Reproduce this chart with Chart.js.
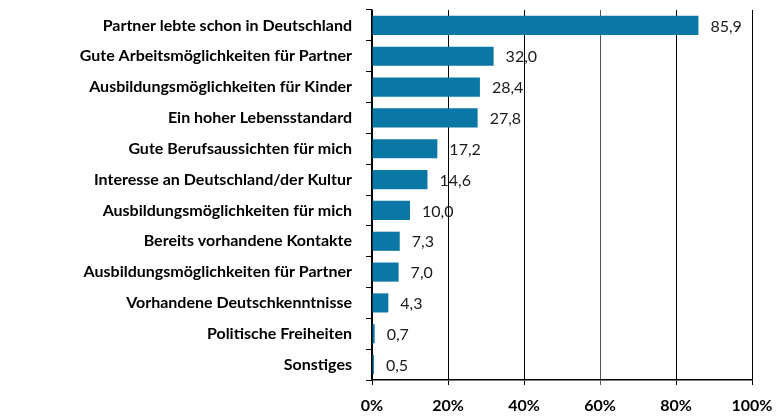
<!DOCTYPE html>
<html>
<head>
<meta charset="utf-8">
<script src="https://cdn.jsdelivr.net/npm/chart.js@4"></script>
<style>
  html, body { margin: 0; padding: 0; background: #fff; }
  #wrap { width: 777px; height: 416px; position: relative; }
</style>
</head>
<body>
<div id="wrap"><canvas id="grafico"></canvas></div>
<script>
// ---------- Dados ----------
const categorias = [
  'Partner lebte schon in Deutschland',
  'Gute Arbeitsmöglichkeiten für Partner',
  'Ausbildungsmöglichkeiten für Kinder',
  'Ein hoher Lebensstandard',
  'Gute Berufsaussichten für mich',
  'Interesse an Deutschland/der Kultur',
  'Ausbildungsmöglichkeiten für mich',
  'Bereits vorhandene Kontakte',
  'Ausbildungsmöglichkeiten für Partner',
  'Vorhandene Deutschkenntnisse',
  'Politische Freiheiten',
  'Sonstiges'
];
const valores = [85.9, 32.0, 28.4, 27.8, 17.2, 14.6, 10.0, 7.3, 7.0, 4.3, 0.7, 0.5];
const ticksX = [0, 20, 40, 60, 80, 100];

const FONT = 'Lato, "Open Sans", sans-serif';
const fmt = (v) => v.toFixed(1).replace('.', ',');

// ---------- Rótulos de valor ----------
const rotulos = {
  id: 'rotulos',
  afterDatasetsDraw(chart){
    const ctx = chart.ctx;
    const meta = chart.getDatasetMeta(0);
    ctx.save();
    ctx.font = '16px ' + FONT;
    ctx.fillStyle = '#1a1a1a';
    ctx.textBaseline = 'middle';
    ctx.textAlign = 'left';
    meta.data.forEach((bar, i) => {
      ctx.fillText(fmt(valores[i]), bar.x + 12, bar.y + 1);
    });
    ctx.restore();
  }
};

new Chart(document.getElementById('grafico'), {
  type: 'bar',
  data: {
    labels: categorias,
    datasets: [{
      data: valores,
      backgroundColor: '#0a77a5',
      categoryPercentage: 1,
      barPercentage: 0.62
    }]
  },
  options: {
    indexAxis: 'y',
    responsive: true,
    maintainAspectRatio: false,
    animation: false,
    layout: { padding: { top: 10, right: 25, left: 0, bottom: 0 } },
    plugins: { legend: { display: false }, tooltip: { enabled: false } },
    scales: {
      x: {
        min: 0, max: 100,
        afterBuildTicks: (s) => { s.ticks = ticksX.map(v => ({ value: v })); },
        afterFit: (s) => { s.height = 36; s.paddingLeft = 0; s.paddingRight = 0; },
        border: { color: '#000', width: 1.5 },
        grid: {
          color: (c) => c.tick && c.tick.value === 60 ? '#555' : '#000',
          lineWidth: 1,
          tickLength: 5,
          drawTicks: true
        },
        ticks: {
          callback: (v) => v + '%',
          color: '#000',
          padding: 11,
          font: { family: FONT, size: 16, weight: 'bold' }
        }
      },
      y: {
        afterFit: (s) => { s.width = 372; s.paddingTop = 0; s.paddingBottom = 0; },
        border: { color: '#000', width: 1.5 },
        grid: {
          offset: true,
          drawOnChartArea: false,
          color: '#000',
          tickLength: 6
        },
        ticks: {
          color: '#000',
          padding: 14,
          font: { family: FONT, size: 16, weight: 'bold' }
        }
      }
    }
  },
  plugins: [rotulos]
});
</script>
</body>
</html>
